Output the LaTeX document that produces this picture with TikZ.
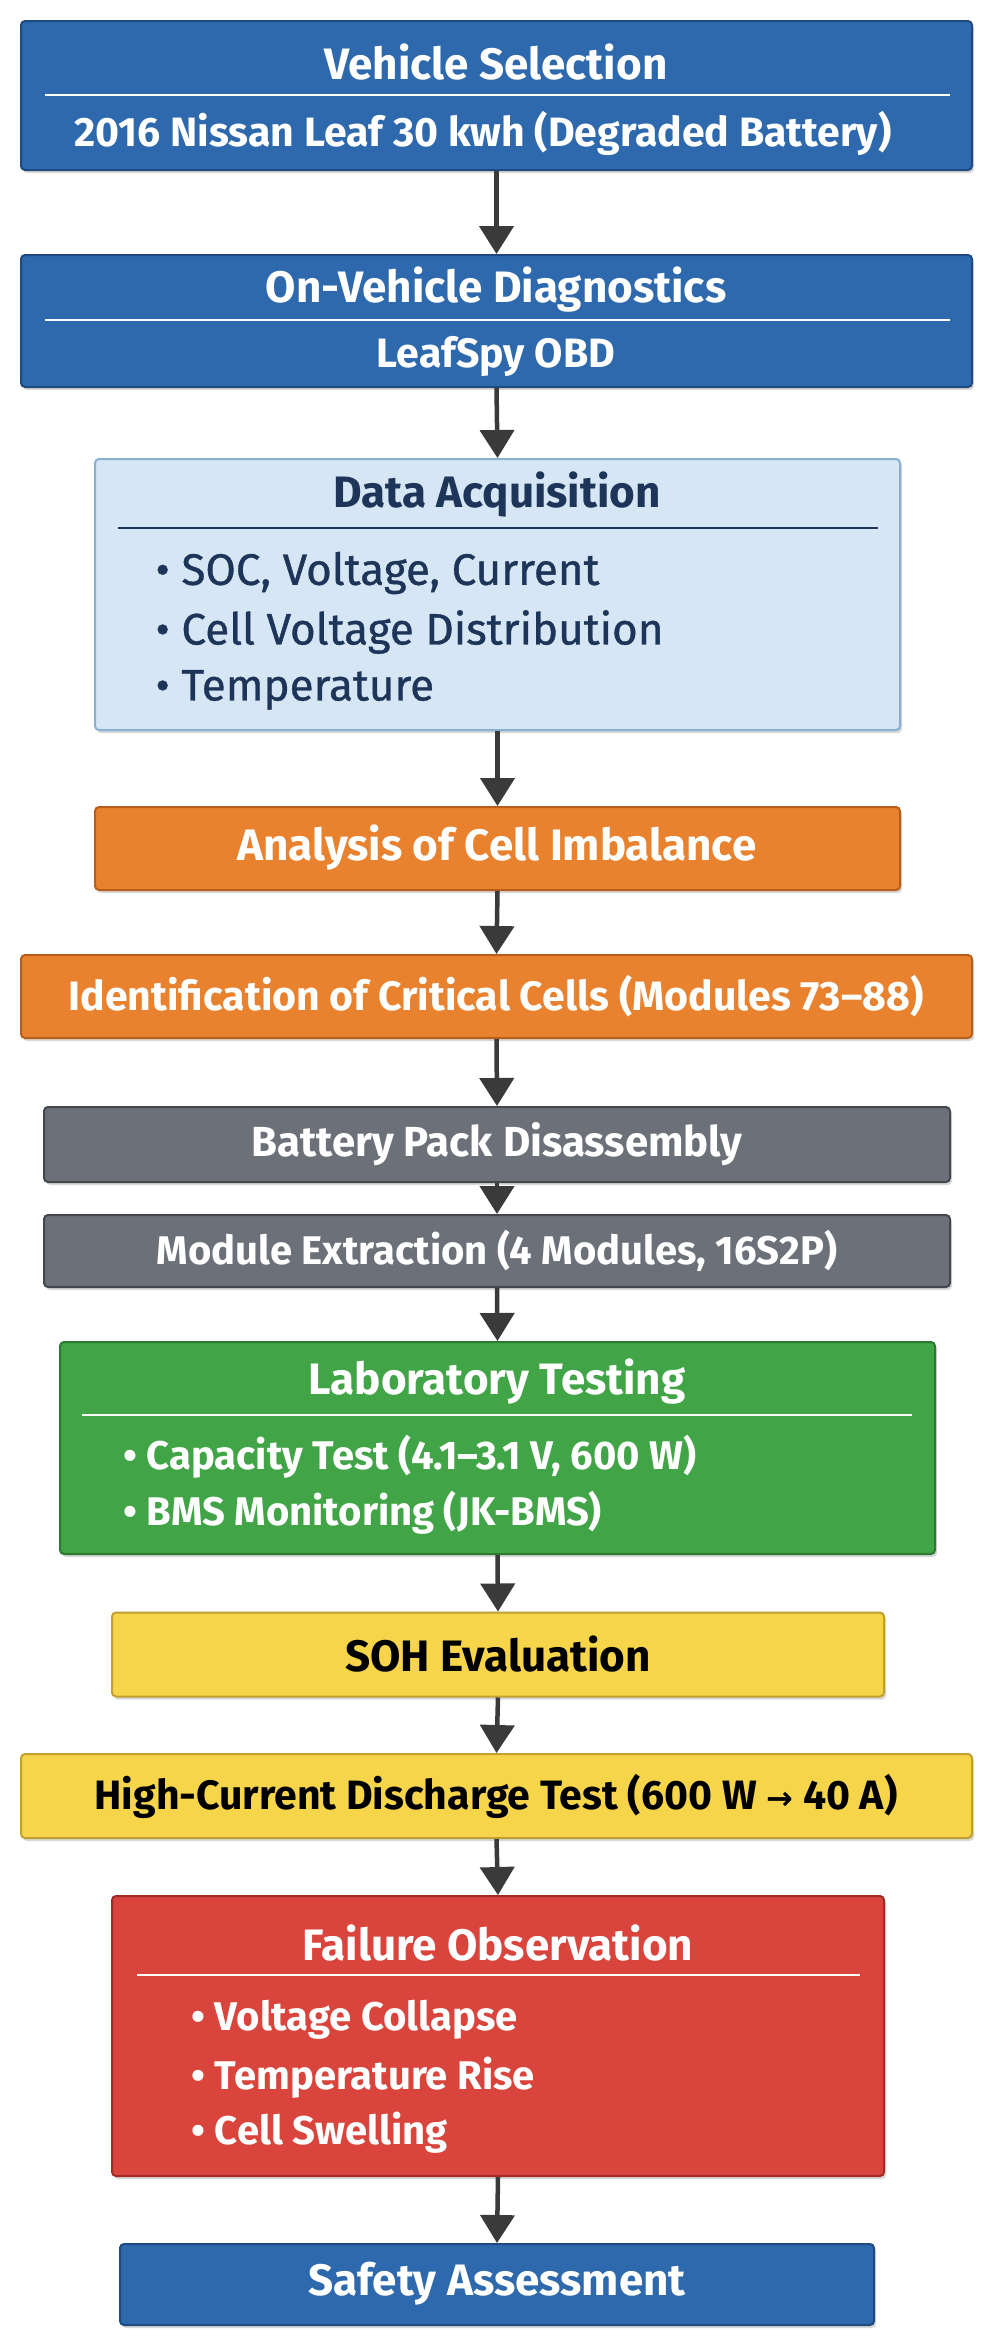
\documentclass[tikz,border=0pt]{standalone}
\usepackage{fontspec}
\setmainfont{Fira Sans}
\newfontfamily\arrfont{DejaVu Sans}
\usetikzlibrary{arrows.meta,shadows}
\definecolor{bblue}{HTML}{2E69AD}
\definecolor{bblueD}{HTML}{1E4A80}
\definecolor{lblue}{HTML}{D6E6F5}
\definecolor{lblueD}{HTML}{8AAFD3}
\definecolor{navy}{HTML}{1D3558}
\definecolor{orng}{HTML}{E9822F}
\definecolor{orngD}{HTML}{B85E1A}
\definecolor{gry}{HTML}{6C7179}
\definecolor{gryD}{HTML}{44484E}
\definecolor{grn}{HTML}{41A447}
\definecolor{grnD}{HTML}{2B7A31}
\definecolor{ylw}{HTML}{F6D54B}
\definecolor{ylwD}{HTML}{BFA030}
\definecolor{rd}{HTML}{D9453C}
\definecolor{rdD}{HTML}{A12C25}
\definecolor{arr}{HTML}{3A3A3A}
\begin{document}
\begin{tikzpicture}[x=1pt,y=-1pt,
  box/.style={draw=#1D,fill=#1,line width=2pt,rounded corners=4pt,drop shadow={opacity=0.3,shadow xshift=2pt,shadow yshift=-3pt}},
  ttl/.style={text=white,font=\fontsize{44}{50}\selectfont\bfseries},
  sub/.style={text=white,font=\fontsize{41}{48}\selectfont\bfseries},
  itm/.style={anchor=west,font=\fontsize{40}{46}\selectfont\bfseries},
  itmd/.style={anchor=west,text=navy,font=\fontsize{44}{50}\selectfont\addfontfeature{FakeBold=0.8}},
  arrow/.style={draw=arr,line width=4.5pt,-{Triangle[length=28pt,width=34pt]}}]
\useasboundingbox (0,0) rectangle (991,2350);
\fill[white] (0,0) rectangle (991,2350);
% boxes
\node[box=bblue,minimum width=951pt,minimum height=149pt] (b1) at (496.5,95.5) {};
\node[box=bblue,minimum width=951pt,minimum height=132pt] (b2) at (496.5,321) {};
\node[box=lblue,minimum width=805pt,minimum height=271pt] (b3) at (497.5,594.5) {};
\node[box=orng,minimum width=805pt,minimum height=83pt] (b4) at (497.5,848.5) {};
\node[box=orng,minimum width=951pt,minimum height=83pt] (b5) at (496.5,996.5) {};
\node[box=gry,minimum width=906pt,minimum height=75pt] (b6) at (497,1144.5) {};
\node[box=gry,minimum width=906pt,minimum height=72pt] (b7) at (497,1251) {};
\node[box=grn,minimum width=875pt,minimum height=212pt] (b8) at (497.5,1448) {};
\node[box=ylw,minimum width=772pt,minimum height=84pt] (b9) at (498,1654.5) {};
\node[box=ylw,minimum width=951pt,minimum height=84pt] (b10) at (496.5,1796) {};
\node[box=rd,minimum width=772pt,minimum height=280pt] (b11) at (498,2036) {};
\node[box=bblue,minimum width=754pt,minimum height=81pt] (b12) at (497,2284.5) {};
% dividers
\draw[white,line width=2pt] (45,95) -- (950,95);
\draw[white,line width=2pt] (45,320) -- (950,320);
\draw[navy,line width=2pt] (118,528) -- (878,528);
\draw[white,line width=2pt] (82,1415) -- (912,1415);
\draw[white,line width=2pt] (137,1975) -- (860,1975);
% texts
\node[ttl] (t1) at (496,62) {Vehicle Selection};
\node[sub] (s1) at (483,133) {2016 Nissan Leaf 30 kwh (Degraded Battery)};
\node[ttl] (t2) at (496,290) {On-Vehicle Diagnostics};
\node[sub] (s2) at (496,356) {LeafSpy OBD};
\node[ttl,text=navy] (t3) at (497,495) {Data Acquisition};
\node[itmd] (i31) at (152,573) {• SOC, Voltage, Current};
\node[itmd] (i32) at (152,632) {• Cell Voltage Distribution};
\node[itmd] (i33) at (152,690) {• Temperature};
\node[ttl] (t4) at (497,848) {Analysis of Cell Imbalance};
\node[sub] (t5) at (496,996) {Identification of Critical Cells (Modules 73–88)};
\node[sub,font=\fontsize{42}{48}\selectfont\bfseries] (t6) at (497,1144) {Battery Pack Disassembly};
\node[sub,font=\fontsize{40}{46}\selectfont\bfseries] (t7) at (497,1251) {Module Extraction (4 Modules, 16S2P)};
\node[ttl] (t8) at (497,1382) {Laboratory Testing};
\node[itm,text=white] (i81) at (120,1457) {• Capacity Test (4.1–3.1 V, 600 W)};
\node[itm,text=white] (i82) at (120,1513) {• BMS Monitoring (JK-BMS)};
\node[ttl,text=black] (t9) at (498,1654) {SOH Evaluation};
\node[sub,text=black] (t10) at (496,1796) {High-Current Discharge Test (600 W {\arrfont\fontsize{32}{40}\selectfont\bfseries →} 40 A)};
\node[ttl] (t11) at (498,1943) {Failure Observation};
\node[itm,text=white] (i111) at (188,2020) {• Voltage Collapse};
\node[itm,text=white] (i112) at (188,2078) {• Temperature Rise};
\node[itm,text=white] (i113) at (188,2133) {• Cell Swelling};
\node[ttl] (t12) at (497,2284) {Safety Assessment};
% arrows
\foreach \a/\b in {b1/b2,b2/b3,b3/b4,b4/b5,b5/b6,b6/b7,b7/b8,b8/b9,b9/b10,b10/b11,b11/b12}
  \draw[arrow] (\a.south) -- (\b.north);
\end{tikzpicture}
\end{document}
